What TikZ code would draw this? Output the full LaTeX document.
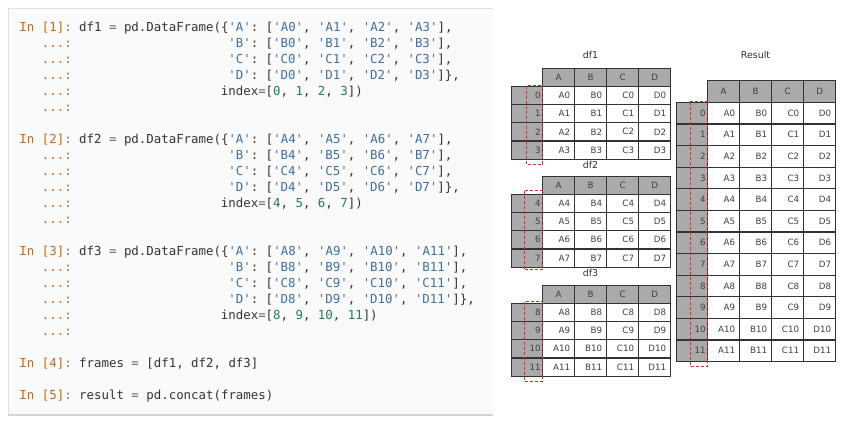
\documentclass[tikz,border=0pt]{standalone}
\usepackage{fontspec}
\newfontfamily\codefont{DejaVu Sans Mono}
\newfontfamily\tabfont{DejaVu Sans}
\definecolor{prompt}{HTML}{C8671B}
\definecolor{codestr}{HTML}{4070A0}
\definecolor{codenum}{HTML}{208050}
\definecolor{codeop}{HTML}{666666}
\definecolor{codetxt}{HTML}{333333}
\definecolor{hdrgray}{HTML}{AAAAAA}
\definecolor{panel}{HTML}{FAFAFA}
\definecolor{markred}{HTML}{E02828}

\newcommand{\cprm}[1]{\textcolor{prompt}{#1}}
\newcommand{\cstr}[1]{\textcolor{codestr}{#1}}
\newcommand{\cnum}[1]{\textcolor{codenum}{#1}}
\newcommand{\cop}[1]{\textcolor{codeop}{#1}}

\tikzset{
  codeline/.style={anchor=base west, inner sep=0pt, text=codetxt,
    font=\fontsize{12.4}{14}\codefont\frenchspacing},
  cell/.style={draw=black!80, line width=1.2pt, fill=white, inner sep=0pt,
    anchor=north west, minimum height=\rowh pt, text=black!75,
    font=\fontsize{8.7}{10}\tabfont},
  datcell/.style={cell, minimum width=32pt, text width=23pt, align=right},
  idxcell/.style={cell, fill=hdrgray, minimum width=31pt, text width=27pt, align=right},
  hdrcell/.style={cell, fill=hdrgray, minimum width=32pt},
  dftitle/.style={inner sep=0pt, text=black!80, font=\fontsize{9.5}{11}\tabfont},
  idxmark/.style={draw=markred, line width=1.1pt, dash pattern=on 3pt off 2pt}
}

\def\rowh{18.2}
% code line: name, column, row, text
\newcommand{\codeat}[4]{\node[codeline] (#1) at ({19.3+#2*7.46},{31.7+#3*16}) {#4};}
% header row: table, x, y
\newcommand{\dfhead}[3]{%
  \node[hdrcell] (#1-hA) at (#2+31,#3) {A};
  \node[hdrcell] (#1-hB) at (#2+63,#3) {B};
  \node[hdrcell] (#1-hC) at (#2+95,#3) {C};
  \node[hdrcell] (#1-hD) at (#2+127,#3) {D};}
% data row: table, index, x, y, A, B, C, D
\newcommand{\dfrow}[8]{%
  \node[idxcell] (#1-i#2) at (#3,#4) {#2};
  \node[datcell] (#1-a#2) at (#3+31,#4) {#5};
  \node[datcell] (#1-b#2) at (#3+63,#4) {#6};
  \node[datcell] (#1-c#2) at (#3+95,#4) {#7};
  \node[datcell] (#1-d#2) at (#3+127,#4) {#8};}

\begin{document}
\begin{tikzpicture}[x=1pt, y=-1pt]
\useasboundingbox (0,0) rectangle (843,424);

% code panel
\fill[panel] (8,8) rectangle (493,414);
\draw[black!12, line width=1pt] (8,414) -- (8,8) -- (493,8);
\draw[black!17, line width=2pt] (8,414.5) -- (493,414.5);

\codeat{c1}{0}{0}{\cprm{In [1]:} df1 \cop{=} pd.DataFrame(\{\cstr{'A'}: [\cstr{'A0'}, \cstr{'A1'}, \cstr{'A2'}, \cstr{'A3'}],}
\codeat{p1b}{3}{1}{\cprm{...:}}
\codeat{c1b}{28}{1}{\cstr{'B'}: [\cstr{'B0'}, \cstr{'B1'}, \cstr{'B2'}, \cstr{'B3'}],}
\codeat{p1c}{3}{2}{\cprm{...:}}
\codeat{c1c}{28}{2}{\cstr{'C'}: [\cstr{'C0'}, \cstr{'C1'}, \cstr{'C2'}, \cstr{'C3'}],}
\codeat{p1d}{3}{3}{\cprm{...:}}
\codeat{c1d}{28}{3}{\cstr{'D'}: [\cstr{'D0'}, \cstr{'D1'}, \cstr{'D2'}, \cstr{'D3'}]\},}
\codeat{p1e}{3}{4}{\cprm{...:}}
\codeat{c1e}{27}{4}{index\cop{=}[\cnum{0}, \cnum{1}, \cnum{2}, \cnum{3}])}
\codeat{p1f}{3}{5}{\cprm{...:}}

\codeat{c2}{0}{7}{\cprm{In [2]:} df2 \cop{=} pd.DataFrame(\{\cstr{'A'}: [\cstr{'A4'}, \cstr{'A5'}, \cstr{'A6'}, \cstr{'A7'}],}
\codeat{p2b}{3}{8}{\cprm{...:}}
\codeat{c2b}{28}{8}{\cstr{'B'}: [\cstr{'B4'}, \cstr{'B5'}, \cstr{'B6'}, \cstr{'B7'}],}
\codeat{p2c}{3}{9}{\cprm{...:}}
\codeat{c2c}{28}{9}{\cstr{'C'}: [\cstr{'C4'}, \cstr{'C5'}, \cstr{'C6'}, \cstr{'C7'}],}
\codeat{p2d}{3}{10}{\cprm{...:}}
\codeat{c2d}{28}{10}{\cstr{'D'}: [\cstr{'D4'}, \cstr{'D5'}, \cstr{'D6'}, \cstr{'D7'}]\},}
\codeat{p2e}{3}{11}{\cprm{...:}}
\codeat{c2e}{27}{11}{index\cop{=}[\cnum{4}, \cnum{5}, \cnum{6}, \cnum{7}])}
\codeat{p2f}{3}{12}{\cprm{...:}}

\codeat{c3}{0}{14}{\cprm{In [3]:} df3 \cop{=} pd.DataFrame(\{\cstr{'A'}: [\cstr{'A8'}, \cstr{'A9'}, \cstr{'A10'}, \cstr{'A11'}],}
\codeat{p3b}{3}{15}{\cprm{...:}}
\codeat{c3b}{28}{15}{\cstr{'B'}: [\cstr{'B8'}, \cstr{'B9'}, \cstr{'B10'}, \cstr{'B11'}],}
\codeat{p3c}{3}{16}{\cprm{...:}}
\codeat{c3c}{28}{16}{\cstr{'C'}: [\cstr{'C8'}, \cstr{'C9'}, \cstr{'C10'}, \cstr{'C11'}],}
\codeat{p3d}{3}{17}{\cprm{...:}}
\codeat{c3d}{28}{17}{\cstr{'D'}: [\cstr{'D8'}, \cstr{'D9'}, \cstr{'D10'}, \cstr{'D11'}]\},}
\codeat{p3e}{3}{18}{\cprm{...:}}
\codeat{c3e}{27}{18}{index\cop{=}[\cnum{8}, \cnum{9}, \cnum{10}, \cnum{11}])}
\codeat{p3f}{3}{19}{\cprm{...:}}

\codeat{c4}{0}{21}{\cprm{In [4]:} frames \cop{=} [df1, df2, df3]}
\codeat{c5}{0}{23}{\cprm{In [5]:} result \cop{=} pd.concat(frames)}

% df1
\node[dftitle] (t1) at (590.5,55) {df1};
\dfhead{df1}{511}{67.5}
\dfrow{df1}{0}{511}{85.7}{A0}{B0}{C0}{D0}
\dfrow{df1}{1}{511}{103.9}{A1}{B1}{C1}{D1}
\dfrow{df1}{2}{511}{122.1}{A2}{B2}{C2}{D2}
\dfrow{df1}{3}{511}{140.3}{A3}{B3}{C3}{D3}
\draw[idxmark] ([xshift=-17pt]df1-i0.north east) rectangle ([xshift=-0.5pt,yshift=-4.5pt]df1-i3.south east);

% df2
\node[dftitle] (t2) at (590.5,165) {df2};
\dfhead{df2}{511}{175.5}
\dfrow{df2}{4}{511}{193.7}{A4}{B4}{C4}{D4}
\dfrow{df2}{5}{511}{211.9}{A5}{B5}{C5}{D5}
\dfrow{df2}{6}{511}{230.1}{A6}{B6}{C6}{D6}
\dfrow{df2}{7}{511}{248.3}{A7}{B7}{C7}{D7}
\draw[idxmark] ([xshift=-19pt,yshift=3pt]df2-i4.north east) rectangle ([xshift=-1pt,yshift=-2pt]df2-i7.south east);

% df3
\node[dftitle] (t3) at (590.5,273) {df3};
\dfhead{df3}{511}{284.5}
\dfrow{df3}{8}{511}{302.7}{A8}{B8}{C8}{D8}
\dfrow{df3}{9}{511}{320.9}{A9}{B9}{C9}{D9}
\dfrow{df3}{10}{511}{339.1}{A10}{B10}{C10}{D10}
\dfrow{df3}{11}{511}{357.3}{A11}{B11}{C11}{D11}
\draw[idxmark] ([xshift=-19pt,yshift=1pt]df3-i8.north east) rectangle ([xshift=-1pt,yshift=-4.5pt]df3-i11.south east);

% result
\def\rowh{21.6}
\node[dftitle] (tr) at (755.5,55) {Result};
\dfhead{res}{676}{80.1}
\dfrow{res}{0}{676}{101.7}{A0}{B0}{C0}{D0}
\dfrow{res}{1}{676}{123.3}{A1}{B1}{C1}{D1}
\dfrow{res}{2}{676}{144.9}{A2}{B2}{C2}{D2}
\dfrow{res}{3}{676}{166.5}{A3}{B3}{C3}{D3}
\dfrow{res}{4}{676}{188.1}{A4}{B4}{C4}{D4}
\dfrow{res}{5}{676}{209.7}{A5}{B5}{C5}{D5}
\dfrow{res}{6}{676}{231.3}{A6}{B6}{C6}{D6}
\dfrow{res}{7}{676}{252.9}{A7}{B7}{C7}{D7}
\dfrow{res}{8}{676}{274.5}{A8}{B8}{C8}{D8}
\dfrow{res}{9}{676}{296.1}{A9}{B9}{C9}{D9}
\dfrow{res}{10}{676}{317.7}{A10}{B10}{C10}{D10}
\dfrow{res}{11}{676}{339.3}{A11}{B11}{C11}{D11}
\draw[idxmark] ([xshift=-18pt]res-i0.north east) rectangle ([xshift=-1pt,yshift=-4pt]res-i11.south east);
\end{tikzpicture}
\end{document}
